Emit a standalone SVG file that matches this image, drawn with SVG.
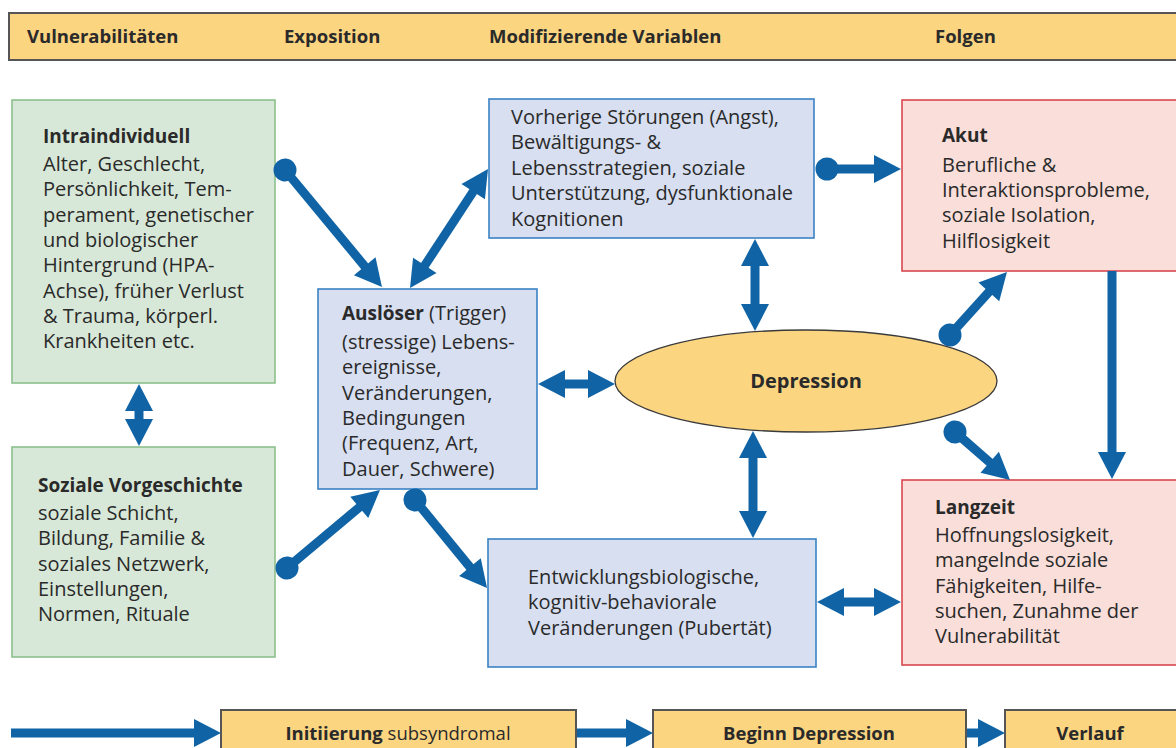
<svg xmlns="http://www.w3.org/2000/svg" width="1176" height="748" viewBox="0 0 1176 748">
<style>
.t{font-family:"Open Sans","Liberation Sans",sans-serif;font-size:20px;fill:#2a2a2a}
.b{font-weight:700}
.h{font-family:"Open Sans","Liberation Sans",sans-serif;font-size:18.5px;font-weight:700;fill:#2a2a2a}
.green{fill:#d8e8d8;stroke:#8cc08c;stroke-width:1.6}
.blue{fill:#d7dff0;stroke:#3a82c4;stroke-width:1.6}
.pink{fill:#f9ded9;stroke:#d9474f;stroke-width:1.6}
.bar{fill:#fcd581;stroke:#555;stroke-width:2}
.c{stroke:#1064a6;stroke-width:9;fill:none}
</style>
<defs>
<marker id="ah" markerUnits="userSpaceOnUse" markerWidth="30" markerHeight="30" refX="2" refY="14" orient="auto-start-reverse" overflow="visible">
<path d="M0,0 L27,14 L0,28 Z" fill="#1064a6"/>
</marker>
<marker id="dot" markerUnits="userSpaceOnUse" markerWidth="26" markerHeight="26" refX="12" refY="12" orient="auto" overflow="visible">
<circle cx="12" cy="12" r="11.5" fill="#1064a6"/>
</marker>
</defs>

<g id="header">
<rect class="bar" x="9" y="13" width="1180" height="47"/>
<text class="h" x="27" y="43">Vulnerabilitäten</text>
<text class="h" x="284" y="43">Exposition</text>
<text class="h" x="489" y="43">Modifizierende Variablen</text>
<text class="h" x="935" y="43">Folgen</text>
</g>

<g id="intraindividuell">
<rect class="green" x="12" y="100" width="263" height="283"/>
<text class="t" x="43"><tspan class="b" x="43" y="143" font-size="19">Intraindividuell</tspan><tspan x="43" y="171">Alter, Geschlecht,</tspan><tspan x="43" y="196.3">Persönlichkeit, Tem-</tspan><tspan x="43" y="221.6">perament, genetischer</tspan><tspan x="43" y="246.9">und biologischer</tspan><tspan x="43" y="272.2">Hintergrund (HPA-</tspan><tspan x="43" y="297.5">Achse), früher Verlust</tspan><tspan x="43" y="322.8">&amp; Trauma, körperl.</tspan><tspan x="43" y="348.1">Krankheiten etc.</tspan></text>
</g>

<g id="soziale">
<rect class="green" x="12" y="447" width="263" height="210"/>
<text class="t" x="38"><tspan class="b" x="38" y="492" font-size="19">Soziale Vorgeschichte</tspan><tspan x="38" y="520">soziale Schicht,</tspan><tspan x="38" y="545.3">Bildung, Familie &amp;</tspan><tspan x="38" y="570.6">soziales Netzwerk,</tspan><tspan x="38" y="595.9">Einstellungen,</tspan><tspan x="38" y="621.2">Normen, Rituale</tspan></text>
</g>

<g id="ausloeser">
<rect class="blue" x="318" y="289" width="219" height="200"/>
<text class="t" x="342"><tspan x="342" y="320"><tspan class="b" font-size="19">Auslöser</tspan> (Trigger)</tspan><tspan x="342" y="349">(stressige) Lebens-</tspan><tspan x="342" y="374.3">ereignisse,</tspan><tspan x="342" y="399.6">Veränderungen,</tspan><tspan x="342" y="424.9">Bedingungen</tspan><tspan x="342" y="450.2">(Frequenz, Art,</tspan><tspan x="342" y="475.5">Dauer, Schwere)</tspan></text>
</g>

<g id="vorherige">
<rect class="blue" x="489" y="99" width="325" height="139"/>
<text class="t" x="511"><tspan x="511" y="123.5">Vorherige Störungen (Angst),</tspan><tspan x="511" y="149">Bewältigungs- &amp;</tspan><tspan x="511" y="174.5">Lebensstrategien, soziale</tspan><tspan x="511" y="200">Unterstützung, dysfunktionale</tspan><tspan x="511" y="225.5">Kognitionen</tspan></text>
</g>

<g id="depression">
<ellipse cx="806" cy="381" rx="191" ry="51" fill="#fcd581" stroke="#3a3a3a" stroke-width="1.3"/>
<text class="t b" x="806" y="388" text-anchor="middle" font-size="19">Depression</text>
</g>

<g id="entwicklung">
<rect class="blue" x="488" y="539" width="328" height="128"/>
<text class="t" x="528"><tspan x="528" y="584">Entwicklungsbiologische,</tspan><tspan x="528" y="609.3">kognitiv-behaviorale</tspan><tspan x="528" y="634.6">Veränderungen (Pubertät)</tspan></text>
</g>

<g id="akut">
<rect class="pink" x="902" y="100" width="290" height="171"/>
<text class="t" x="942"><tspan class="b" x="942" y="142" font-size="19">Akut</tspan><tspan x="942" y="171.7">Berufliche &amp;</tspan><tspan x="942" y="197">Interaktionsprobleme,</tspan><tspan x="942" y="222.3">soziale Isolation,</tspan><tspan x="942" y="247.6">Hilflosigkeit</tspan></text>
</g>

<g id="langzeit">
<rect class="pink" x="902" y="480" width="290" height="185"/>
<text class="t" x="935"><tspan class="b" x="935" y="514" font-size="19">Langzeit</tspan><tspan x="935" y="542">Hoffnungslosigkeit,</tspan><tspan x="935" y="567.3">mangelnde soziale</tspan><tspan x="935" y="592.6">Fähigkeiten, Hilfe-</tspan><tspan x="935" y="617.9">suchen, Zunahme der</tspan><tspan x="935" y="643.2">Vulnerabilität</tspan></text>
</g>

<g id="initiierung">
<rect class="bar" x="221" y="710" width="355" height="50"/>
<text class="h" x="398" y="740" text-anchor="middle">Initiierung <tspan font-weight="400">subsyndromal</tspan></text>
</g>
<g id="beginn">
<rect class="bar" x="653" y="710" width="313" height="50"/>
<text class="h" x="809" y="740" text-anchor="middle">Beginn Depression</text>
</g>
<g id="verlauf">
<rect class="bar" x="1005" y="710" width="190" height="50"/>
<text class="h" x="1090" y="740" text-anchor="middle">Verlauf</text>
</g>

<g id="connectors">
<line class="c" x1="285" y1="170" x2="366" y2="267.8" marker-start="url(#dot)" marker-end="url(#ah)"/>
<line class="c" x1="423.7" y1="267.1" x2="474.3" y2="189.9" marker-start="url(#ah)" marker-end="url(#ah)"/>
<line class="c" x1="287" y1="568" x2="360.8" y2="506.1" marker-start="url(#dot)" marker-end="url(#ah)"/>
<line class="c" x1="563" y1="384" x2="590" y2="384" marker-start="url(#ah)" marker-end="url(#ah)"/>
<line class="c" x1="415" y1="500" x2="471.2" y2="568.6" marker-start="url(#dot)" marker-end="url(#ah)"/>
<line class="c" x1="827" y1="169" x2="876" y2="169" marker-start="url(#dot)" marker-end="url(#ah)"/>
<line class="c" x1="755" y1="264" x2="755" y2="306" marker-start="url(#ah)" marker-end="url(#ah)"/>
<line class="c" x1="753" y1="456" x2="753" y2="513" marker-start="url(#ah)" marker-end="url(#ah)"/>
<line class="c" x1="842" y1="602" x2="876" y2="602" marker-start="url(#ah)" marker-end="url(#ah)"/>
<line class="c" x1="1112" y1="271" x2="1112" y2="454" marker-end="url(#ah)"/>
<line class="c" x1="950" y1="335" x2="990.2" y2="290.5" marker-start="url(#dot)" marker-end="url(#ah)"/>
<line class="c" x1="955" y1="432" x2="991.2" y2="463.6" marker-start="url(#dot)" marker-end="url(#ah)"/>
<line class="c" x1="139" y1="409" x2="139" y2="421" marker-start="url(#ah)" marker-end="url(#ah)"/>
<line class="c" x1="11" y1="733" x2="196" y2="733" marker-end="url(#ah)"/>
<line class="c" x1="577" y1="733" x2="628" y2="733" marker-end="url(#ah)"/>
<line class="c" x1="967" y1="733" x2="980" y2="733" marker-end="url(#ah)"/>
</g>
</svg>
